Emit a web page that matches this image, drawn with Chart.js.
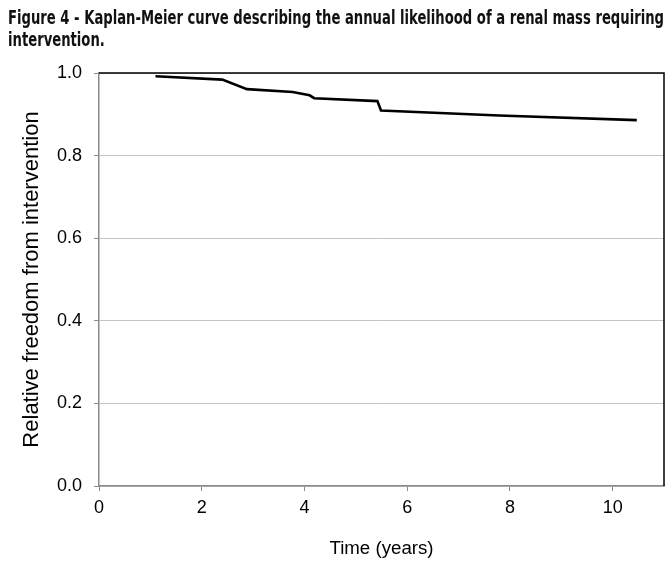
<!DOCTYPE html>
<html>
<head>
<meta charset="utf-8">
<script src="https://cdn.jsdelivr.net/npm/chart.js@4/dist/chart.umd.min.js"></script>
<style>
  html, body { margin: 0; padding: 0; background: #fff; }
  #wrap { width: 670px; height: 566px; }
</style>
</head>
<body>
<div id="wrap"><canvas id="km"></canvas></div>
<script>
// curve
const timeYears = [1.10, 2.40, 2.88, 3.77, 4.10, 4.19, 5.42, 5.49, 7.79, 10.47];
const freedom = [0.992, 0.984, 0.961, 0.954, 0.946, 0.939, 0.932, 0.909, 0.897, 0.886];
const xTicks = [0, 2, 4, 6, 8, 10];
const yTicks = [0, 0.2, 0.4, 0.6, 0.8, 1.0];

const titleLines = [
  "Figure 4 - Kaplan-Meier curve describing the annual likelihood of a renal mass requiring",
  "intervention."
];

const labelFont = { family: "'Liberation Sans', Arial, sans-serif", size: 18 };
const axisGray = "#8a8a8a";

// figure caption: condensed bold, both lines squeezed by the same amount
const caption = {
  id: "caption",
  afterDraw(chart) {
    const ctx = chart.ctx;
    ctx.save();
    ctx.font = "bold 20px 'Liberation Sans Narrow', 'DejaVu Sans Condensed', sans-serif";
    ctx.fillStyle = "#111";
    ctx.textBaseline = "middle";
    const w = ctx.measureText(titleLines[0]).width;
    const sx = Math.min(1, 656 / w);
    ctx.translate(8, 0);
    ctx.scale(sx, 1);
    titleLines.forEach((line, i) => ctx.fillText(line, 0, 19 + i * 21.5));
    ctx.restore();
  }
};

// black frame on top and right side of the plot area
const frame = {
  id: "frame",
  afterDatasetsDraw(chart) {
    const { ctx, chartArea: a } = chart;
    ctx.save();
    ctx.strokeStyle = "#000";
    ctx.lineWidth = 1.5;
    ctx.beginPath();
    ctx.moveTo(a.left, a.top);
    ctx.lineTo(a.right, a.top);
    ctx.lineTo(a.right, a.bottom);
    ctx.stroke();
    ctx.restore();
  }
};

new Chart(document.getElementById("km"), {
  type: "line",
  data: {
    datasets: [{
      data: timeYears.map((t, i) => ({ x: t, y: freedom[i] })),
      borderColor: "#000",
      borderWidth: 2.6,
      pointRadius: 0,
      tension: 0,
      fill: false
    }]
  },
  options: {
    responsive: true,
    maintainAspectRatio: false,
    animation: false,
    layout: { padding: { left: 8, right: 6, top: 73, bottom: 0 } },
    plugins: {
      legend: { display: false },
      tooltip: { enabled: false },
      title: { display: false }
    },
    scales: {
      x: {
        type: "linear",
        min: 0,
        max: 11,
        afterBuildTicks: (s) => { s.ticks = xTicks.map((v) => ({ value: v })); },
        afterFit: (s) => { s.height = 80; },
        grid: { drawOnChartArea: false, drawTicks: true, tickLength: 5, tickColor: axisGray },
        border: { color: axisGray, width: 1.5 },
        ticks: { color: "#000", font: labelFont, padding: 6, maxRotation: 0 },
        title: { display: true, text: "Time (years)", color: "#000", font: { family: labelFont.family, size: 18.7 }, padding: { top: 10, bottom: 6 } }
      },
      y: {
        min: 0,
        max: 1,
        afterBuildTicks: (s) => { s.ticks = yTicks.map((v) => ({ value: v })); },
        afterFit: (s) => { s.width = 91; },
        grid: { color: "#c4c4c4", lineWidth: 1, drawTicks: true, tickLength: 5, tickColor: axisGray },
        border: { color: axisGray, width: 1.5 },
        ticks: { color: "#000", font: labelFont, padding: 12, callback: (v) => v.toFixed(1) },
        title: { display: true, text: "Relative freedom from intervention", color: "#000", font: { family: labelFont.family, size: 22 }, padding: { top: 11, bottom: 0 } }
      }
    }
  },
  plugins: [frame, caption]
});
</script>
</body>
</html>
